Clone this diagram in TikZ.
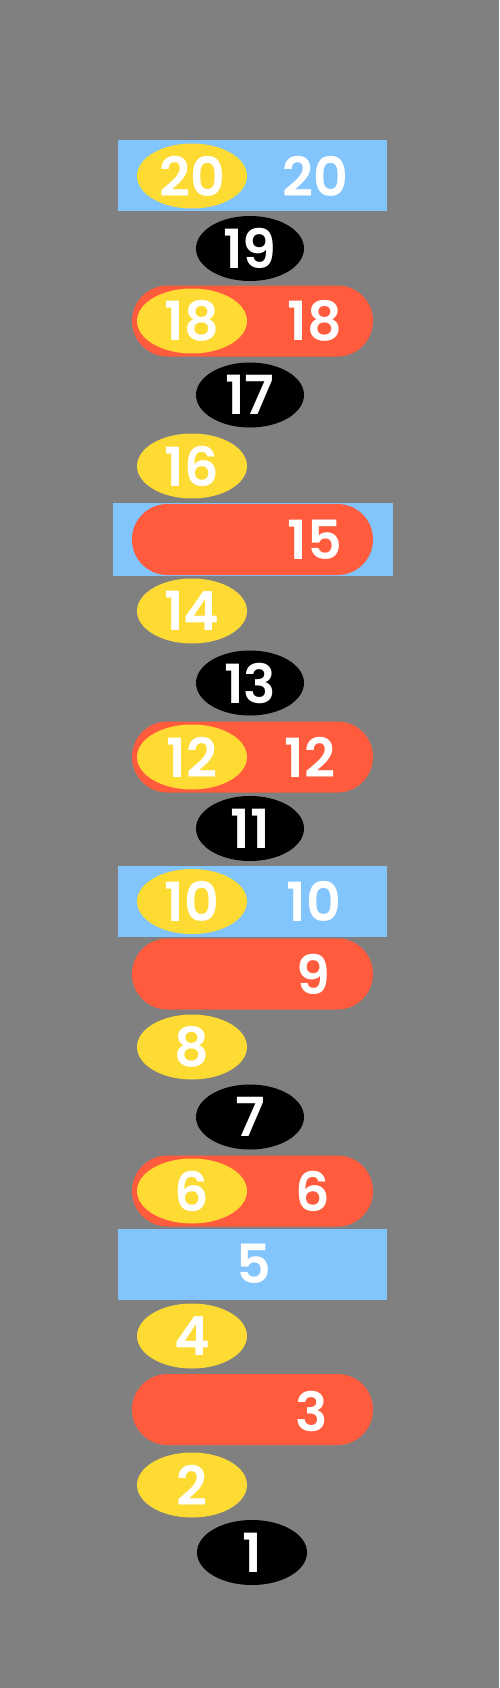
\documentclass[tikz,border=0pt]{standalone}
\usepackage{fontspec}
\newfontfamily\numfont{Poppins SemiBold}
\usetikzlibrary{shapes.geometric}
\usetikzlibrary{shapes.misc}
\usepackage{xcolor}
\definecolor{skyblue}{HTML}{82C4FC}
\definecolor{tomato}{HTML}{FF5B3C}
\definecolor{sunyellow}{HTML}{FDDB33}
\definecolor{bggray}{HTML}{808080}

\tikzset{
  numtext/.style={text=white, font=\numfont\fontsize{54}{54}\selectfont, inner sep=0pt},
  yellowdot/.style={ellipse, fill=sunyellow, minimum width=110pt, minimum height=65pt, inner sep=0pt, numtext},
  blackdot/.style={ellipse, fill=black, minimum width=108pt, minimum height=65pt, inner sep=0pt, numtext},
  redpill/.style={rounded rectangle, fill=tomato, minimum width=241pt, minimum height=71pt, inner sep=0pt},
  bluebar/.style={rectangle, fill=skyblue, minimum width=269pt, minimum height=71pt, inner sep=0pt}
}

\begin{document}
\begin{tikzpicture}[x=1pt,y=-1pt]
            % background and page size
            \fill[bggray] (0,0) rectangle (499,1688);
            \useasboundingbox (0,0) rectangle (499,1688);

            % rows from the top
            \node[bluebar] (b20) at (252.5,176) {};
            \node[yellowdot] (y20) at (192,176) {20};
            \node[numtext] (t20) at (315,176) {20};

            \node[blackdot] (k19) at (250,248.5) {19};

            \node[redpill] (r18) at (252.5,321) {};
            \node[yellowdot] (y18) at (192,321) {18};
            \node[numtext] (t18) at (315,321) {18};

            \node[blackdot] (k17) at (250,395) {17};

            \node[yellowdot] (y16) at (192,466) {16};

            \node[bluebar, minimum width=280pt, minimum height=73pt] (b15) at (253,539.5) {};
            \node[redpill] (r15) at (252.5,539.5) {};
            \node[numtext] (t15) at (315,539.5) {15};

            \node[yellowdot] (y14) at (192,611) {14};

            \node[blackdot] (k13) at (250,683) {13};

            \node[redpill] (r12) at (252.5,757) {};
            \node[yellowdot] (y12) at (192,757) {12};
            \node[numtext] (t12) at (310,757) {12};

            \node[blackdot] (k11) at (250,828.5) {11};

            \node[bluebar] (b10) at (252.5,901.5) {};
            \node[yellowdot] (y10) at (192,901.5) {10};
            \node[numtext] (t10) at (314,901.5) {10};

            \node[redpill] (r9) at (252.5,974) {};
            \node[numtext] (t9) at (313,974) {9};

            \node[yellowdot] (y8) at (192,1047) {8};

            \node[blackdot] (k7) at (250,1117) {7};

            \node[redpill] (r6) at (252.5,1191) {};
            \node[yellowdot] (y6) at (192,1191) {6};
            \node[numtext] (t6) at (313,1191) {6};

            \node[bluebar] (b5) at (252.5,1264) {};
            \node[numtext] (t5) at (254,1264) {5};

            \node[yellowdot] (y4) at (192,1336) {4};

            \node[redpill] (r3) at (252.5,1409.5) {};
            \node[numtext] (t3) at (312,1411) {3};

            \node[yellowdot] (y2) at (192,1485) {2};

            \node[blackdot, minimum width=110pt] (k1) at (252,1552.5) {1};
        \end{tikzpicture}
\end{document}
